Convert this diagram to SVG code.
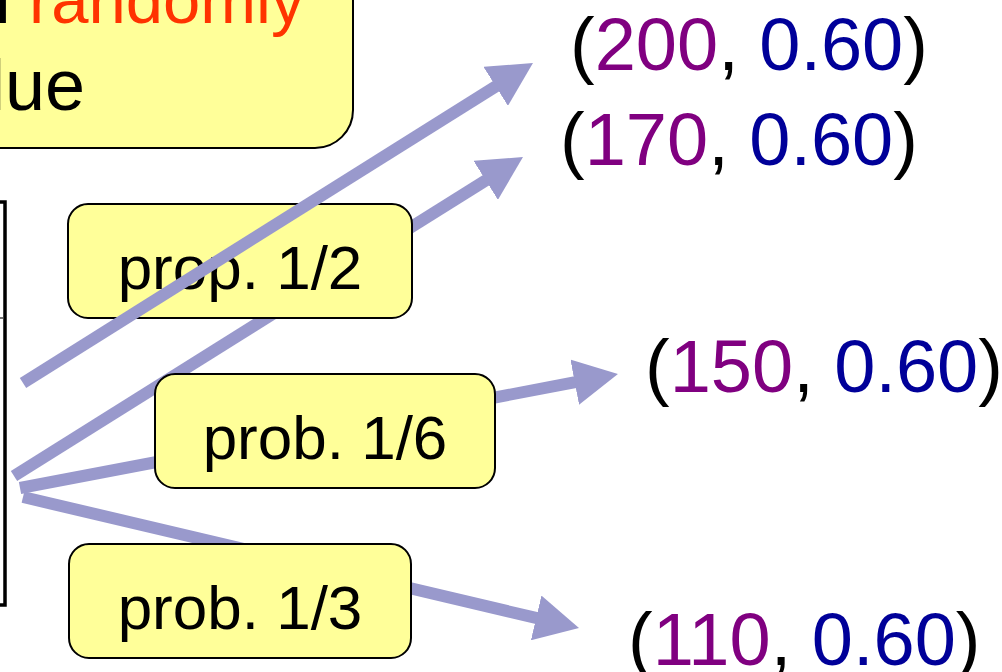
<svg xmlns="http://www.w3.org/2000/svg" width="1002" height="672" viewBox="0 0 1002 672">
  <style>
    .box { fill: #FFFF99; stroke: #000; stroke-width: 2; }
    .lbl { font-family: "Liberation Sans", Arial, sans-serif; font-size: 62px; fill: #000; text-anchor: middle; }
    .big { font-family: "Liberation Sans", Arial, sans-serif; font-size: 74px; fill: #000; }
    .num { fill: #800080; }
    .val { fill: #000099; }
    .arrow { fill: none; stroke: #9999CC; stroke-width: 12; stroke-linecap: butt; marker-end: url(#head); }
  </style>
  <defs>
    <marker id="head" viewBox="0 0 44 46" markerWidth="3.667" markerHeight="3.833" refX="2" refY="23" orient="auto" markerUnits="strokeWidth">
      <path d="M0,0 L44,23 L0,46 z" fill="#9999CC"/>
    </marker>
  </defs>

  <rect width="1002" height="672" fill="#fff"/>

  <!-- table edge on the left -->
  <g id="table-edge">
    <path d="M0,202 H5 V605 H0" fill="none" stroke="#000" stroke-width="3.5"/>
    <line x1="0" y1="318" x2="4" y2="318" stroke="#444" stroke-width="1.5"/>
  </g>

  <!-- callout box at the top -->
  <g id="note">
    <rect class="box" x="-40" y="-40" width="393" height="188" rx="38"/>
    <text x="-27" y="23" font-family="Liberation Sans, Arial, sans-serif" font-size="67"><tspan fill="#000">n </tspan><tspan fill="#FF3300">randomly</tspan></text>
    <text x="85" y="110" font-family="Liberation Sans, Arial, sans-serif" font-size="72" text-anchor="end" fill="#000">value</text>
  </g>

  <!-- connectors drawn beneath the labels -->
  <g id="connectors">
    <line class="arrow" x1="14" y1="476" x2="487.4" y2="179.3"/>
    <line class="arrow" x1="20" y1="488" x2="576.7" y2="381.9"/>
    <line class="arrow" x1="23" y1="497" x2="538.1" y2="618.4"/>
  </g>

  <g id="label-half">
    <rect class="box" x="68" y="204" width="344" height="114" rx="20"/>
    <text class="lbl" x="240" y="289">prop. 1/2</text>
  </g>

  <g id="label-sixth">
    <rect class="box" x="155" y="374" width="340" height="114" rx="20"/>
    <text class="lbl" x="325" y="459">prob. 1/6</text>
  </g>

  <g id="label-third">
    <rect class="box" x="69" y="544" width="342" height="114" rx="20"/>
    <text class="lbl" x="240" y="629">prob. 1/3</text>
  </g>

  <!-- connector drawn over the first label -->
  <g id="connectors-over">
    <line class="arrow" x1="23" y1="383" x2="497.4" y2="85.3"/>
  </g>

  <!-- outcomes -->
  <g id="out-200">
    <text class="big" x="570" y="70">(<tspan class="num">200</tspan>, <tspan class="val">0.60</tspan>)</text>
  </g>
  <g id="out-170">
    <text class="big" x="560" y="165">(<tspan class="num">170</tspan>, <tspan class="val">0.60</tspan>)</text>
  </g>
  <g id="out-150">
    <text class="big" x="645" y="392">(<tspan class="num">150</tspan>, <tspan class="val">0.60</tspan>)</text>
  </g>
  <g id="out-110">
    <text class="big" x="628" y="665">(<tspan class="num">110</tspan>, <tspan class="val">0.60</tspan>)</text>
  </g>
</svg>
